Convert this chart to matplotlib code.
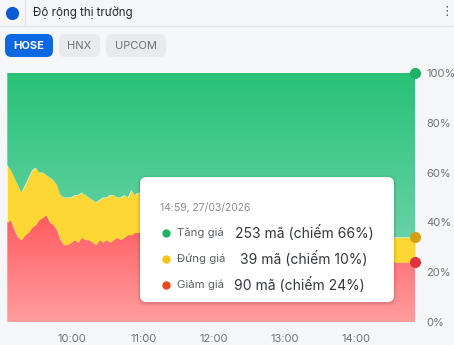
import numpy as np
import matplotlib
matplotlib.use("Agg")
import matplotlib.pyplot as plt
from matplotlib.colors import LinearSegmentedColormap
from matplotlib.patches import FancyBboxPatch
from matplotlib.lines import Line2D

plt.rcParams['font.family'] = ['Inter', 'DejaVu Sans']

# ---------------- data ----------------
times = ["09:05", "09:08", "09:11", "09:14", "09:17", "09:20", "09:23", "09:26", "09:29", "09:32",
         "09:35", "09:38", "09:41", "09:44", "09:47", "09:50", "09:53", "09:56", "09:59", "10:02",
         "10:05", "10:08", "10:11", "10:14", "10:17", "10:20", "10:23", "10:26", "10:29", "10:32",
         "10:35", "10:38", "10:41", "10:44", "10:47", "10:50", "10:53", "10:56", "10:59",
         "11:05", "11:10", "11:15", "11:20", "11:25", "11:30",
         "13:00", "13:10", "13:20", "13:30", "13:40", "13:50", "14:00", "14:10", "14:20", "14:30",
         "14:33", "14:36", "14:39", "14:42", "14:45", "14:48", "14:50"]
down_pct = [40, 41, 37, 34, 33, 35, 36, 38, 39, 41,
            42, 43, 40, 39, 37, 33, 31, 31, 32, 33,
            32, 34, 33, 33, 32, 31, 33, 32, 33, 32,
            33, 34, 33, 34, 35, 35, 36, 36, 36,
            35, 34, 34, 33, 33, 32,
            31, 30, 30, 29, 28, 28, 27, 26, 26, 25,
            24, 24, 24, 24, 24, 24, 24]
flat_pct = [23, 20, 21, 21, 19, 20, 22, 23, 23, 19,
            18, 16, 18, 18, 18, 18, 19, 19, 18, 18,
            19, 18, 18, 17, 17, 17, 16, 18, 17, 19,
            18, 16, 17, 17, 15, 18, 15, 16, 15,
            16, 17, 16, 17, 16, 16,
            16, 15, 14, 14, 13, 12, 12, 11, 11, 10,
            10, 10, 10, 10, 10, 10, 10]
up_pct = [37, 39, 42, 45, 48, 45, 42, 39, 38, 40,
          40, 41, 42, 43, 45, 49, 50, 50, 50, 49,
          49, 48, 49, 50, 51, 52, 51, 50, 50, 49,
          49, 50, 50, 49, 50, 47, 49, 48, 49,
          49, 49, 50, 50, 51, 52,
          53, 55, 56, 57, 59, 60, 61, 63, 63, 65,
          66, 66, 66, 66, 66, 66, 66]
xtick_labels = ["10:00", "11:00", "12:00", "13:00", "14:00"]
ytick_vals = [0, 20, 40, 60, 80, 100]

tabs = ["HOSE", "HNX", "UPCOM"]
title = "Độ rộng thị trường"
tip_time = "14:59, 27/03/2026"
tip_labels = ["Tăng giá", "Đứng giá", "Giảm giá"]
tip_counts = [253, 39, 90]
tip_share = [66, 10, 24]

# ---------------- helpers ----------------
W, H = 454, 345
def fx(x): return x / W
def fy(y): return 1 - y / H
def tmin(s):
    h, m = s.split(":")
    return int(h) * 60 + int(m)

x = np.array([tmin(t) for t in times], dtype=float)
down = np.array(down_pct, float)
flat = np.array(flat_pct, float)
up = np.array(up_pct, float)
y1 = down
y2 = down + flat
y3 = down + flat + up

BG = "#f5f6f8"
fig = plt.figure(figsize=(W / 100, H / 100), dpi=100, facecolor=BG)

ax = fig.add_axes([fx(7.3), fy(322), (415 - 7.3) / W, (322 - 73) / H])
ax.set_facecolor(BG)

def grad_fill(lo, hi, c_bot, c_top, ybot, ytop, z):
    poly = ax.fill_between(x, lo, hi, color='none', lw=0)
    cmap = LinearSegmentedColormap.from_list('g', [c_bot, c_top])
    grad = np.linspace(0, 1, 256).reshape(-1, 1)
    im = ax.imshow(grad, cmap=cmap, aspect='auto', origin='lower',
                   extent=[x[0], x[-1], ybot, ytop], zorder=z, interpolation='bilinear')
    im.set_clip_path(poly.get_paths()[0], transform=ax.transData)
    return im

grad_fill(np.zeros_like(y1), y1, "#ff9d9f", "#ff585c", 0, 45, 1)
ax.fill_between(x, y1, y2, color="#fdd733", lw=0, zorder=1)
grad_fill(y2, y3, "#6ad3a8", "#27c277", 30, 100, 1)
ax.set_xlim(x[0], x[-1])
ax.set_ylim(0, 100)

# crosshair + end markers
ax.axvline(x[-1], color="#9aa0a6", lw=0.8, ls=(0, (3, 2)), zorder=3, alpha=0.8)
ax.plot([x[-1]], [y3[-1]], 'o', ms=7, color="#21b066", zorder=5, clip_on=False)
ax.plot([x[-1]], [y2[-1]], 'o', ms=7, color="#d3a10f", zorder=5, clip_on=False)
ax.plot([x[-1]], [y1[-1]], 'o', ms=7, color="#e0343c", zorder=5, clip_on=False)

for s in ax.spines.values():
    s.set_visible(False)
ax.set_xticks([tmin(t) for t in xtick_labels])
ax.set_xticklabels(xtick_labels)
ax.yaxis.tick_right()
ax.set_yticks(ytick_vals)
ax.set_yticklabels([f"{v}%" for v in ytick_vals])
ax.tick_params(axis='both', length=0, labelsize=8, colors="#6e7378")
ax.tick_params(axis='x', pad=9)
ax.tick_params(axis='y', pad=8)

# ---------------- header ----------------
fig.add_artist(Line2D([fx(12)], [fy(13)], marker='o', ms=8.5, color="#0c5bd3",
                      transform=fig.transFigure))
fig.add_artist(Line2D([fx(25), fx(25)], [fy(0), fy(25)], color="#e0e2e6", lw=1,
                      transform=fig.transFigure))
fig.add_artist(Line2D([0, 1], [fy(25.5), fy(25.5)], color="#e0e2e6", lw=1,
                      transform=fig.transFigure))
fig.text(fx(33), fy(13), title, fontsize=8.3, color="#23262b", va='center', ha='left')
fig.text(fx(447), fy(12), "⋮", fontsize=9, color="#555", va='center', ha='center',
         family=['DejaVu Sans'])

tab_boxes = [(5, 53), (59, 100), (106, 166)]
for i, (name, (a, b)) in enumerate(zip(tabs, tab_boxes)):
    active = i == 0
    box = FancyBboxPatch((fx(a), fy(57)), (b - a) / W, 23 / H,
                         boxstyle="round,pad=0,rounding_size=0.014",
                         transform=fig.transFigure, lw=0,
                         facecolor="#0b68e0" if active else "#e8eaed", mutation_aspect=W / H)
    fig.add_artist(box)
    fig.text(fx((a + b) / 2), fy(46), name, fontsize=8, ha='center', va='center',
             color="white" if active else "#6b7077", fontweight='bold' if active else 'normal')

# ---------------- tooltip ----------------
for k, al in [(3, 0.03), (2, 0.04), (1, 0.05)]:
    sh = FancyBboxPatch((fx(140 - k), fy(302 + k + 1)), (254 + 2 * k) / W, (125 + 2 * k) / H,
                        boxstyle="round,pad=0,rounding_size=0.018", transform=fig.transFigure,
                        lw=0, facecolor="black", alpha=al, mutation_aspect=W / H, zorder=8)
    fig.add_artist(sh)
tip = FancyBboxPatch((fx(140), fy(302)), 254 / W, 125 / H,
                     boxstyle="round,pad=0,rounding_size=0.014", transform=fig.transFigure,
                     lw=0, facecolor="white", mutation_aspect=W / H, zorder=9)
fig.add_artist(tip)
fig.text(fx(160), fy(208), tip_time, fontsize=7.5, color="#8a8f96", va='center', ha='left', zorder=10)
dot_cols = ["#21b066", "#f5c518", "#e8471c"]
row_y = [233, 259, 285]
val_x = [235, 240, 234]
for lab, c, s, dc, ry, vx in zip(tip_labels, tip_counts, tip_share, dot_cols, row_y, val_x):
    fig.add_artist(Line2D([fx(166)], [fy(ry)], marker='o', ms=5, color=dc,
                          transform=fig.transFigure, zorder=10))
    fig.text(fx(177), fy(ry - 0.5), lab, fontsize=8.2, color="#5a5f66", va='center', ha='left', zorder=10)
    fig.text(fx(vx), fy(ry), f"{c} mã (chiếm {s}%)", fontsize=10, color="#33373d",
             va='center', ha='left', zorder=10)

fig.savefig("out.png", dpi=100, facecolor=BG)
